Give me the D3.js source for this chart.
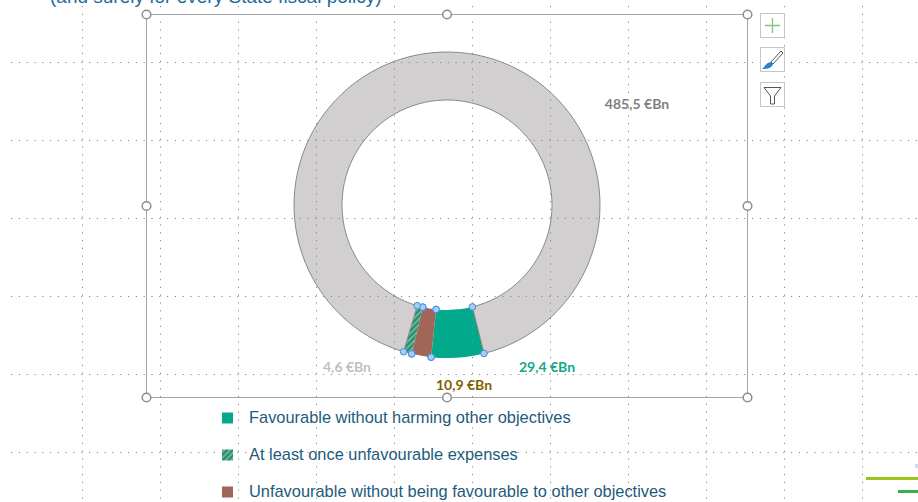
<!DOCTYPE html>
<html>
<head>
<meta charset="utf-8">
<script src="https://cdn.jsdelivr.net/npm/d3@7"></script>
<style>
  html, body { margin: 0; padding: 0; background: #fff; overflow: hidden; }
  svg { display: block; }
</style>
</head>
<body>
<script>
// chart data (pie order, clockwise from the start angle)
const sliceNames = ["Favourable", "Unfavourable", "At least once", "Other"];
const sliceValues = [29.4, 10.9, 4.6, 485.5];
const sliceLabels = ["29,4 €Bn", "10,9 €Bn", "4,6 €Bn", "485,5 €Bn"];

// legend
const legendNames = [
  "Favourable without harming other objectives",
  "At least once unfavourable expenses",
  "Unfavourable without being favourable to other objectives"
];
const legendKeys = ["Favourable", "At least once", "Unfavourable"];

const titleText = "(and surely for every State fiscal policy)";

// styling / layout
const width = 918;
const height = 502;
const cx = 447, cy = 205;
const outerR = 153, innerR = 105;
const startDeg = 166;

const fills = {
  "Favourable": "#02a98a",
  "Unfavourable": "#a0665a",
  "At least once": "url(#hatch)",
  "Other": "#d1cfcf"
};
const labelColors = {
  "Favourable": "#13a88a",
  "Unfavourable": "#7f6000",
  "At least once": "#bfbfbf",
  "Other": "#7f7f7f"
};
// label anchor offsets from chart centre
const labelPos = {
  "Favourable": [100, 167],
  "Unfavourable": [17, 185],
  "At least once": [-100, 167],
  "Other": [190, -96]
};

const svg = d3.select('body')
  .append('svg')
  .attr('width', width)
  .attr('height', height);

const defs = svg.append('defs');
const hatch = defs.append('pattern')
  .attr('id', 'hatch')
  .attr('patternUnits', 'userSpaceOnUse')
  .attr('width', 4)
  .attr('height', 4)
  .attr('patternTransform', 'rotate(45)');
hatch.append('rect').attr('width', 4).attr('height', 4).attr('fill', '#2f8a6a');
hatch.append('rect').attr('width', 1.6).attr('height', 4).attr('fill', '#6cc3a3');

// title (cut off at the top, as on the slide)
svg.append('text')
  .attr('x', 50)
  .attr('y', 2.5)
  .attr('font-family', 'Liberation Sans, Arial, sans-serif')
  .attr('font-size', 19)
  .attr('fill', '#1f6a98')
  .text(titleText);

// donut
const pie = d3.pie()
  .sort(null)
  .value((d) => d.value)
  .startAngle(startDeg * Math.PI / 180)
  .endAngle((startDeg + 360) * Math.PI / 180);

const data = sliceNames.map((n, i) => ({name: n, value: sliceValues[i], label: sliceLabels[i]}));
const arcs = pie(data);

const arc = d3.arc().innerRadius(innerR).outerRadius(outerR);

const chart = svg.append('g').attr('transform', `translate(${cx},${cy})`);

chart.selectAll('path.slice')
  .data(arcs)
  .enter().append('path')
  .attr('class', 'slice')
  .attr('d', arc)
  .attr('fill', (d) => fills[d.data.name])
  .attr('stroke', (d) => d.data.name === 'Other' ? '#7f7f7f' : 'none')
  .attr('stroke-width', 0.9);

// data labels
chart.selectAll('text.lbl')
  .data(arcs)
  .enter().append('text')
  .attr('class', 'lbl')
  .attr('x', (d) => labelPos[d.data.name][0])
  .attr('y', (d) => labelPos[d.data.name][1])
  .attr('text-anchor', 'middle')
  .attr('font-family', 'Lato, Carlito, sans-serif')
  .attr('font-weight', 'bold')
  .attr('font-size', 14)
  .attr('fill', (d) => labelColors[d.data.name])
  .text((d) => d.data.label);

// point selection handles on the coloured slices
const handlePts = [];
arcs.filter((d) => d.data.name !== 'Other').forEach((d) => {
  [d.startAngle, d.endAngle].forEach((a) => {
    [innerR, outerR].forEach((r) => {
      handlePts.push([r * Math.sin(a), -r * Math.cos(a)]);
    });
  });
});
chart.selectAll('circle.pt')
  .data(handlePts)
  .enter().append('circle')
  .attr('class', 'pt')
  .attr('cx', (d) => d[0])
  .attr('cy', (d) => d[1])
  .attr('r', 3.3)
  .attr('fill', '#a9cdf0')
  .attr('stroke', '#3d8fe0')
  .attr('stroke-width', 1);

// legend
const legend = svg.append('g');
legendNames.forEach((name, i) => {
  const y = 423 + i * 37;
  legend.append('rect')
    .attr('x', 222)
    .attr('y', y - 10.5)
    .attr('width', 11)
    .attr('height', 11)
    .attr('fill', fills[legendKeys[i]]);
  legend.append('text')
    .attr('x', 249)
    .attr('y', y)
    .attr('font-family', 'Liberation Sans, Arial, sans-serif')
    .attr('font-size', 16.4)
    .attr('fill', '#1c5b7c')
    .text(name);
});

// dotted PowerPoint gridlines (drawn on top)
const vx = d3.range(82, width, 78);
const hy = d3.range(62, height, 78);
const grid = svg.append('g')
  .attr('stroke', '#8a8a8a')
  .attr('stroke-width', 1)
  .attr('stroke-dasharray', '1.2 6.6');
grid.selectAll('line.v')
  .data(vx)
  .enter().append('line')
  .attr('x1', (d) => d + 0.5).attr('x2', (d) => d + 0.5)
  .attr('y1', 6).attr('y2', height);
grid.selectAll('line.h')
  .data(hy)
  .enter().append('line')
  .attr('x1', 11).attr('x2', width)
  .attr('y1', (d) => d + 0.5).attr('y2', (d) => d + 0.5);

// selection frame
const frame = {x0: 146, y0: 14, x1: 747, y1: 397};
svg.append('rect')
  .attr('x', frame.x0 + 0.5)
  .attr('y', frame.y0 + 0.5)
  .attr('width', frame.x1 - frame.x0)
  .attr('height', frame.y1 - frame.y0)
  .attr('fill', 'none')
  .attr('stroke', '#a6a6a6')
  .attr('stroke-width', 1);

const mx = (frame.x0 + frame.x1) / 2, my = (frame.y0 + frame.y1) / 2;
const frameHandles = [
  [frame.x0, frame.y0], [mx, frame.y0], [frame.x1, frame.y0],
  [frame.x0, my], [frame.x1, my],
  [frame.x0, frame.y1], [mx, frame.y1], [frame.x1, frame.y1]
];
svg.selectAll('circle.fh')
  .data(frameHandles)
  .enter().append('circle')
  .attr('class', 'fh')
  .attr('cx', (d) => d[0] + 0.5)
  .attr('cy', (d) => d[1] + 0.5)
  .attr('r', 4.3)
  .attr('fill', '#fff')
  .attr('stroke', '#8c8c8c')
  .attr('stroke-width', 1.5);

// chart side buttons
const btnY = [13, 47, 82];
const btns = svg.append('g');
btnY.forEach((y) => {
  btns.append('rect')
    .attr('x', 760.5)
    .attr('y', y + 0.5)
    .attr('width', 24)
    .attr('height', 24)
    .attr('fill', '#fff')
    .attr('stroke', '#c6c6c6');
});
// plus
btns.append('path')
  .attr('d', 'M772.5,18V33M765,25.5H780')
  .attr('stroke', '#7cc47f')
  .attr('stroke-width', 1.3)
  .attr('fill', 'none');
// brush
btns.append('path')
  .attr('d', 'M781,51 L783,53 L773,64 L771,62 Z')
  .attr('fill', '#fff')
  .attr('stroke', '#555')
  .attr('stroke-width', 1);
btns.append('path')
  .attr('d', 'M771,62 L773,64 C772,68 768,69 762,69 C765,67 765,63 771,62 Z')
  .attr('fill', '#2d7fd8');
// funnel
btns.append('path')
  .attr('d', 'M764,87.5 H781 L774.5,96 V104 H770.5 V96 Z')
  .attr('fill', 'none')
  .attr('stroke', '#555')
  .attr('stroke-width', 1);

// bits of the slide at the bottom right
svg.append('line')
  .attr('x1', 866).attr('x2', width).attr('y1', 478.5).attr('y2', 478.5)
  .attr('stroke', '#9cc41c').attr('stroke-width', 3);
svg.append('line')
  .attr('x1', 898).attr('x2', width).attr('y1', 491.5).attr('y2', 491.5)
  .attr('stroke', '#3dae4a').attr('stroke-width', 3);
svg.append('rect')
  .attr('x', 915).attr('y', 464).attr('width', 3).attr('height', 4)
  .attr('fill', '#c4e3f3');
</script>
</body>
</html>
